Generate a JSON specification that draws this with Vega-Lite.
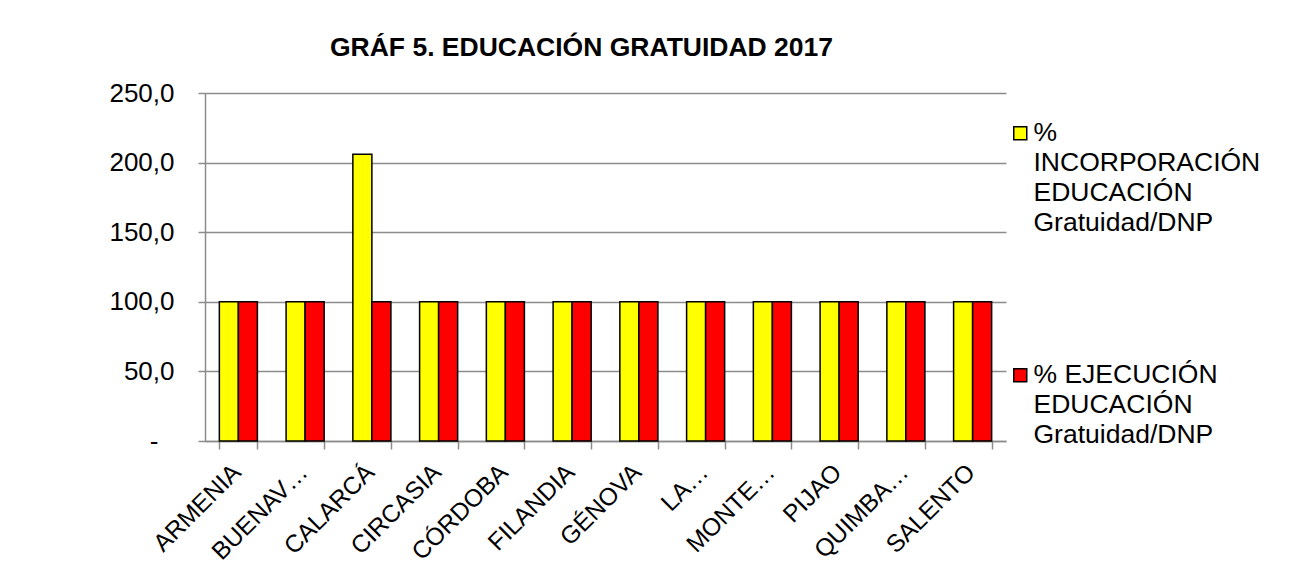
{
  "$schema": "https://vega.github.io/schema/vega-lite/v6.json",
  "width": 801,
  "height": 348,
  "autosize": {"type": "none"},
  "padding": {"left": 205, "top": 93, "right": 297, "bottom": 134},
  "background": "white",
  "title": {"text": "GRÁF 5. EDUCACIÓN GRATUIDAD 2017", "font": "Liberation Sans", "fontSize": 26.5, "fontWeight": "bold", "color": "black", "anchor": "middle", "dx": -24, "offset": 19},
  "config": {
    "font": "Liberation Sans",
    "view": {"stroke": null},
    "style": {"guide-label": {"lineHeight": 30}}
  },
  "data": {
    "values": [
      {"municipio": "ARMENIA", "serie": "% INCORPORACIÓN EDUCACIÓN Gratuidad/DNP", "valor": 100},
      {"municipio": "ARMENIA", "serie": "% EJECUCIÓN EDUCACIÓN Gratuidad/DNP", "valor": 100},
      {"municipio": "BUENAVISTA", "serie": "% INCORPORACIÓN EDUCACIÓN Gratuidad/DNP", "valor": 100},
      {"municipio": "BUENAVISTA", "serie": "% EJECUCIÓN EDUCACIÓN Gratuidad/DNP", "valor": 100},
      {"municipio": "CALARCÁ", "serie": "% INCORPORACIÓN EDUCACIÓN Gratuidad/DNP", "valor": 206},
      {"municipio": "CALARCÁ", "serie": "% EJECUCIÓN EDUCACIÓN Gratuidad/DNP", "valor": 100},
      {"municipio": "CIRCASIA", "serie": "% INCORPORACIÓN EDUCACIÓN Gratuidad/DNP", "valor": 100},
      {"municipio": "CIRCASIA", "serie": "% EJECUCIÓN EDUCACIÓN Gratuidad/DNP", "valor": 100},
      {"municipio": "CÓRDOBA", "serie": "% INCORPORACIÓN EDUCACIÓN Gratuidad/DNP", "valor": 100},
      {"municipio": "CÓRDOBA", "serie": "% EJECUCIÓN EDUCACIÓN Gratuidad/DNP", "valor": 100},
      {"municipio": "FILANDIA", "serie": "% INCORPORACIÓN EDUCACIÓN Gratuidad/DNP", "valor": 100},
      {"municipio": "FILANDIA", "serie": "% EJECUCIÓN EDUCACIÓN Gratuidad/DNP", "valor": 100},
      {"municipio": "GÉNOVA", "serie": "% INCORPORACIÓN EDUCACIÓN Gratuidad/DNP", "valor": 100},
      {"municipio": "GÉNOVA", "serie": "% EJECUCIÓN EDUCACIÓN Gratuidad/DNP", "valor": 100},
      {"municipio": "LA TEBAIDA", "serie": "% INCORPORACIÓN EDUCACIÓN Gratuidad/DNP", "valor": 100},
      {"municipio": "LA TEBAIDA", "serie": "% EJECUCIÓN EDUCACIÓN Gratuidad/DNP", "valor": 100},
      {"municipio": "MONTENEGRO", "serie": "% INCORPORACIÓN EDUCACIÓN Gratuidad/DNP", "valor": 100},
      {"municipio": "MONTENEGRO", "serie": "% EJECUCIÓN EDUCACIÓN Gratuidad/DNP", "valor": 100},
      {"municipio": "PIJAO", "serie": "% INCORPORACIÓN EDUCACIÓN Gratuidad/DNP", "valor": 100},
      {"municipio": "PIJAO", "serie": "% EJECUCIÓN EDUCACIÓN Gratuidad/DNP", "valor": 100},
      {"municipio": "QUIMBAYA", "serie": "% INCORPORACIÓN EDUCACIÓN Gratuidad/DNP", "valor": 100},
      {"municipio": "QUIMBAYA", "serie": "% EJECUCIÓN EDUCACIÓN Gratuidad/DNP", "valor": 100},
      {"municipio": "SALENTO", "serie": "% INCORPORACIÓN EDUCACIÓN Gratuidad/DNP", "valor": 100},
      {"municipio": "SALENTO", "serie": "% EJECUCIÓN EDUCACIÓN Gratuidad/DNP", "valor": 100}
    ]
  },
  "mark": {"type": "bar", "stroke": "black", "strokeWidth": 1.5},
  "encoding": {
    "x": {
      "field": "municipio", "type": "nominal", "sort": null,
      "scale": {"paddingInner": 0.43, "paddingOuter": 0.215},
      "axis": {
        "title": null, "labelAngle": -45, "labelFontSize": 24.5, "labelColor": "black",
        "labelExpr": "datum.label == 'BUENAVISTA' ? 'BUENAV…' : datum.label == 'LA TEBAIDA' ? 'LA…' : datum.label == 'MONTENEGRO' ? 'MONTE…' : datum.label == 'QUIMBAYA' ? 'QUIMBA…' : datum.label",
        "tickBand": "extent", "tickSize": 8, "tickColor": "#8c8c8c", "tickWidth": 1.5,
        "domainColor": "#8c8c8c", "domainWidth": 1.5, "labelPadding": 11, "labelOffset": -10, "grid": false
      }
    },
    "xOffset": {"field": "serie", "sort": ["% INCORPORACIÓN EDUCACIÓN Gratuidad/DNP", "% EJECUCIÓN EDUCACIÓN Gratuidad/DNP"]},
    "y": {
      "field": "valor", "type": "quantitative",
      "scale": {"domain": [0, 250], "nice": false},
      "axis": {
        "title": null, "values": [0, 50, 100, 150, 200, 250],
        "labelExpr": "datum.value == 0 ? '-' : replace(format(datum.value, '.1f'), '.', ',')",
        "labelFontSize": 26, "labelColor": "black",
        "labelPadding": {"condition": {"test": "datum.value == 0", "value": 40}, "value": 24},
        "tickSize": 7, "tickColor": "#8c8c8c", "tickWidth": 1.5,
        "domainColor": "#8c8c8c", "domainWidth": 1.5,
        "gridColor": "#8c8c8c", "gridWidth": 1.5
      }
    },
    "color": {
      "field": "serie", "type": "nominal",
      "sort": ["% INCORPORACIÓN EDUCACIÓN Gratuidad/DNP", "% EJECUCIÓN EDUCACIÓN Gratuidad/DNP"],
      "scale": {"range": ["#FFFF00", "#FF0000"]},
      "legend": {
        "title": null, "orient": "none", "legendX": 802, "legendY": 27,
        "labelFontSize": 26.5, "labelColor": "black", "labelLimit": 400,
        "labelExpr": "datum.label == '% INCORPORACIÓN EDUCACIÓN Gratuidad/DNP' ? ['%', 'INCORPORACIÓN', 'EDUCACIÓN', 'Gratuidad/DNP'] : ['% EJECUCIÓN', 'EDUCACIÓN', 'Gratuidad/DNP']",
        "labelBaseline": "middle", "labelOffset": 0,
        "symbolType": "square", "symbolSize": 169, "symbolStrokeColor": "black", "symbolStrokeWidth": 1.5,
        "rowPadding": 125
      }
    }
  }
}
